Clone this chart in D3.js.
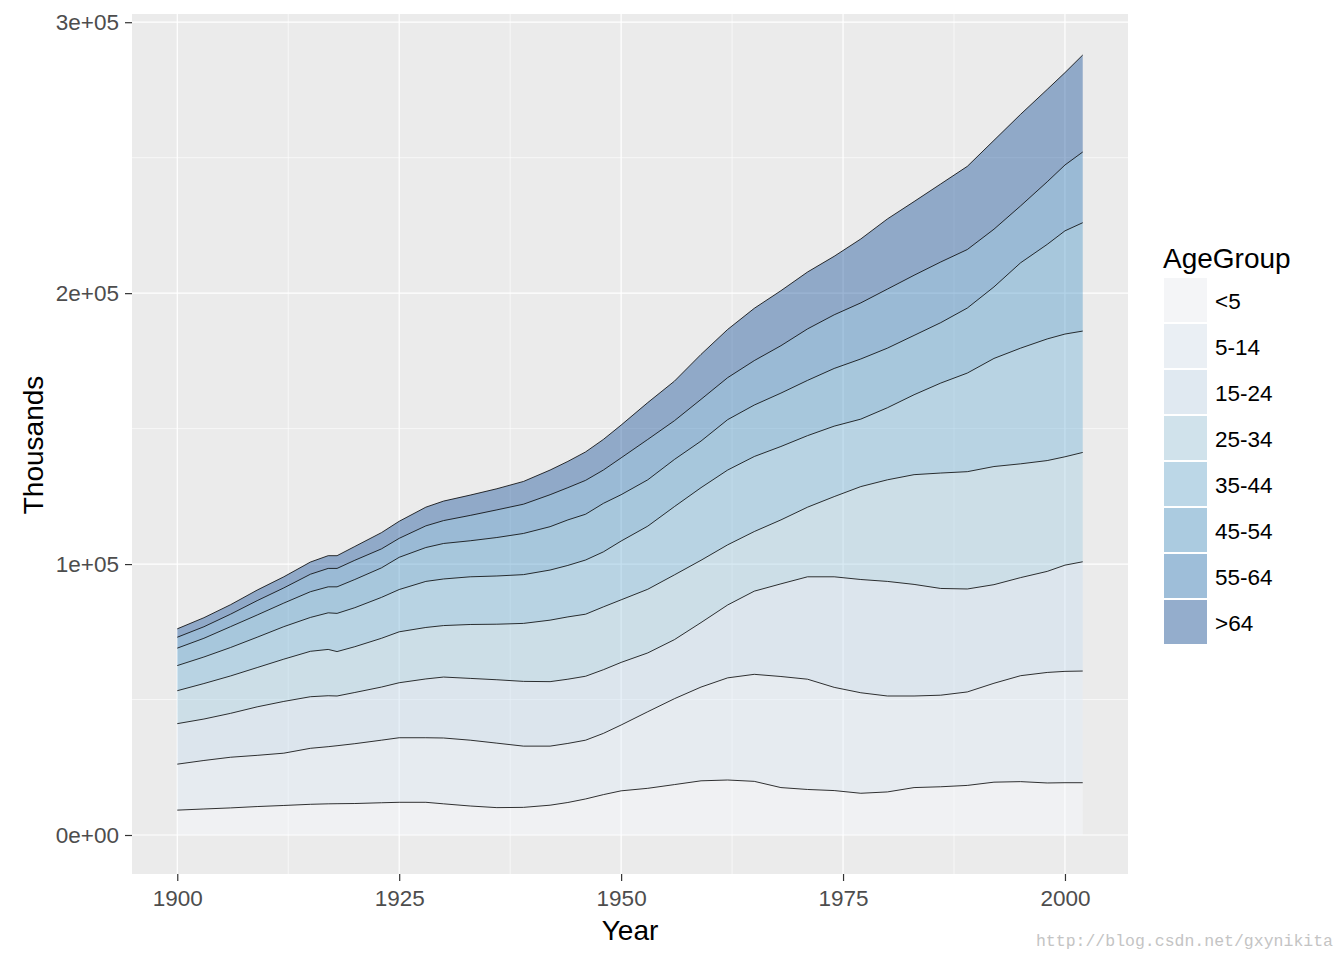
<!DOCTYPE html>
<html>
<head>
<meta charset="utf-8">
<script src="https://cdn.jsdelivr.net/npm/d3@7"></script>
<style>
  body { margin: 0; background: #ffffff; }
  text { font-family: "Liberation Sans", Arial, sans-serif; }
</style>
</head>
<body>
<div id="wrapper"></div>
<script>
// values (thousands)
const years = [1900, 1903, 1906, 1909, 1912, 1915, 1917, 1918, 1920, 1923, 1925, 1928, 1930,
  1933, 1936, 1939, 1942, 1944, 1946, 1948, 1950, 1953, 1956, 1959, 1962, 1965, 1968,
  1971, 1974, 1977, 1980, 1983, 1986, 1989, 1992, 1995, 1998, 2000, 2002];

const ageGroups = ["<5", "5-14", "15-24", "25-34", "35-44", "45-54", "55-64", ">64"];

const under5 = [9181, 9600, 10000, 10500, 10900, 11330, 11500, 11550, 11620, 11900, 12070, 12070, 11500,
  10700, 10100, 10200, 11000, 12000, 13300, 14900, 16300, 17230, 18600, 20000, 20300, 19800, 17500,
  16800, 16400, 15400, 15900, 17500, 17800, 18300, 19500, 19700, 19200, 19300, 19300];
const age5to14 = [16966, 17900, 18700, 18900, 19300, 20670, 21100, 21400, 22080, 23100, 23830, 23830, 24300,
  24300, 23800, 22600, 21800, 21800, 21700, 22600, 24300, 28270, 31700, 34600, 37700, 39500, 41000,
  40700, 38100, 37100, 35400, 33800, 33800, 34500, 36500, 39100, 40800, 41100, 41220];
const age15to24 = [14951, 15300, 16200, 17900, 19100, 19040, 18800, 18350, 18900, 19600, 20300, 21700, 22500,
  22800, 23400, 23900, 23800, 23700, 23600, 23500, 23100, 21700, 21800, 23800, 26900, 30700, 34200,
  37800, 40800, 41800, 42300, 41200, 39400, 38000, 36400, 36200, 37300, 39200, 40330];
const age25to34 = [12161, 13100, 13800, 14500, 15600, 16760, 17100, 16400, 16900, 18000, 18800, 19000, 19000,
  19900, 20500, 21400, 22700, 23000, 22900, 23200, 23100, 23500, 23900, 23000, 22200, 22000, 23600,
  25700, 29600, 34300, 37500, 40500, 42600, 43300, 43600, 42000, 40900, 40000, 40350];
const age35to44 = [9273, 9800, 10500, 11200, 12000, 12500, 13500, 14100, 14400, 15100, 15600, 17000, 17200,
  17600, 17800, 18000, 18500, 19000, 20000, 20300, 21700, 23300, 25200, 26800, 27600, 27700, 27100,
  26400, 26000, 24900, 26600, 29500, 33200, 36400, 39900, 42700, 44900, 45300, 44800];
const age45to54 = [6437, 6900, 7700, 8200, 8700, 9500, 9600, 9800, 10400, 10900, 11900, 12500, 13100,
  13300, 14200, 15200, 16000, 16800, 16900, 17900, 17100, 17100, 17400, 17200, 18600, 19000, 19700,
  20400, 21300, 22200, 22000, 21900, 22300, 24000, 26400, 31500, 34900, 38100, 40000];
const age55to64 = [4026, 4260, 4600, 5300, 5600, 6450, 6800, 6800, 7100, 7000, 7000, 8000, 8450,
  9360, 10200, 10800, 11800, 11900, 12500, 12300, 13600, 14900, 14300, 15400, 15500, 16400, 17500,
  19000, 19800, 20700, 21800, 22200, 22400, 21600, 21300, 21000, 23100, 24300, 26100];
const over64 = [3099, 3340, 3500, 3900, 4100, 4500, 4700, 4700, 5100, 6000, 6300, 6900, 7200,
  7500, 7800, 8400, 9100, 9700, 10500, 11300, 12100, 13600, 14600, 16600, 17800, 19300, 20300,
  21000, 21600, 23600, 25900, 27200, 28800, 30700, 32800, 33800, 34100, 34100, 35800];

const xTicks = [1900, 1925, 1950, 1975, 2000];
const xMinorTicks = [1912.5, 1937.5, 1962.5, 1987.5];
const yTicks = [0, 100000, 200000, 300000];
const yTickLabels = ["0e+00", "1e+05", "2e+05", "3e+05"];
const yMinorTicks = [50000, 150000, 250000];

const blues = ["#F7FBFF", "#DEEBF7", "#C6DBEF", "#9ECAE1", "#6BAED6", "#4292C6", "#2171B5", "#084594"];

function drawChart() {
  // 1. Build data
  const groupValues = [under5, age5to14, age15to24, age25to34, age35to44, age45to54, age55to64, over64];
  const dataset = years.map((year, i) => {
    const row = { Year: year };
    ageGroups.forEach((g, j) => (row[g] = groupValues[j][i]));
    return row;
  });
  const series = d3.stack().keys(ageGroups)(dataset);

  const xAccessor = (d) => d.data.Year;

  // 2. Dimensions
  let dimensions = {
    width: 1344,
    height: 960,
    margin: { top: 16, right: 216, bottom: 86, left: 132 },
  };
  dimensions.boundedWidth = dimensions.width - dimensions.margin.left - dimensions.margin.right;
  dimensions.boundedHeight = dimensions.height - dimensions.margin.top - dimensions.margin.bottom;

  // 3. Canvas
  const wrapper = d3
    .select("#wrapper")
    .append("svg")
    .attr("width", dimensions.width)
    .attr("height", dimensions.height);

  const bounds = wrapper
    .append("g")
    .attr("transform", `translate(${dimensions.margin.left},${dimensions.margin.top})`);

  bounds
    .append("rect")
    .attr("y", -2)
    .attr("width", dimensions.boundedWidth)
    .attr("height", dimensions.boundedHeight + 2)
    .attr("fill", "#EBEBEB");

  // 4. Scales (ggplot style 5% expansion)
  const xExt = d3.extent(years);
  const xPad = (xExt[1] - xExt[0]) * 0.05;
  const xScale = d3
    .scaleLinear()
    .domain([xExt[0] - xPad, xExt[1] + xPad])
    .range([0, dimensions.boundedWidth]);

  const yMax = d3.max(series[series.length - 1], (d) => d[1]);
  const yScale = d3
    .scaleLinear()
    .domain([-yMax * 0.05, yMax * 1.05])
    .range([dimensions.boundedHeight, 0]);

  // grid
  const grid = bounds.append("g");
  grid.selectAll(".xminor").data(xMinorTicks).join("line")
    .attr("x1", (d) => xScale(d)).attr("x2", (d) => xScale(d))
    .attr("y1", -2).attr("y2", dimensions.boundedHeight)
    .attr("stroke", "#ffffff").attr("stroke-width", 0.6);
  grid.selectAll(".yminor").data(yMinorTicks).join("line")
    .attr("y1", (d) => yScale(d)).attr("y2", (d) => yScale(d))
    .attr("x1", 0).attr("x2", dimensions.boundedWidth)
    .attr("stroke", "#ffffff").attr("stroke-width", 0.6);
  grid.selectAll(".xmajor").data(xTicks).join("line")
    .attr("x1", (d) => xScale(d)).attr("x2", (d) => xScale(d))
    .attr("y1", -2).attr("y2", dimensions.boundedHeight)
    .attr("stroke", "#ffffff").attr("stroke-width", 1.2);
  grid.selectAll(".ymajor").data(yTicks).join("line")
    .attr("y1", (d) => yScale(d)).attr("y2", (d) => yScale(d))
    .attr("x1", 0).attr("x2", dimensions.boundedWidth)
    .attr("stroke", "#ffffff").attr("stroke-width", 1.2);

  // 5. Areas
  const areaGenerator = d3
    .area()
    .x((d) => xScale(xAccessor(d)))
    .y0((d) => yScale(d[0]))
    .y1((d) => yScale(d[1]));

  bounds
    .selectAll(".area")
    .data(series)
    .join("path")
    .attr("class", "area")
    .attr("d", areaGenerator)
    .attr("fill", (d, i) => blues[i])
    .attr("fill-opacity", 0.4);

  const lineGenerator = d3
    .line()
    .x((d) => xScale(xAccessor(d)))
    .y((d) => yScale(d[1]));

  bounds
    .selectAll(".upper")
    .data(series)
    .join("path")
    .attr("class", "upper")
    .attr("d", lineGenerator)
    .attr("fill", "none")
    .attr("stroke", "#000000")
    .attr("stroke-width", 0.8);

  // 6. Axes
  const xAxisGenerator = d3
    .axisBottom(xScale)
    .tickValues(xTicks)
    .tickFormat(d3.format("d"))
    .tickSize(7)
    .tickSizeOuter(0)
    .tickPadding(9);

  const xAxis = bounds
    .append("g")
    .attr("transform", `translate(0,${dimensions.boundedHeight})`)
    .call(xAxisGenerator);
  xAxis.select(".domain").remove();
  xAxis.selectAll(".tick line").attr("stroke", "#333333").attr("stroke-width", 1.2);
  xAxis.selectAll(".tick text")
    .attr("fill", "#4D4D4D")
    .style("font-size", "22.5px")
    .style("font-family", '"Liberation Sans", Arial, sans-serif');

  const yAxisGenerator = d3
    .axisLeft(yScale)
    .tickValues(yTicks)
    .tickFormat((d, i) => yTickLabels[i])
    .tickSize(7)
    .tickSizeOuter(0)
    .tickPadding(6);

  const yAxis = bounds.append("g").call(yAxisGenerator);
  yAxis.select(".domain").remove();
  yAxis.selectAll(".tick line").attr("stroke", "#333333").attr("stroke-width", 1.2);
  yAxis.selectAll(".tick text")
    .attr("fill", "#4D4D4D")
    .style("font-size", "22.5px")
    .style("font-family", '"Liberation Sans", Arial, sans-serif');

  wrapper
    .append("text")
    .attr("x", dimensions.margin.left + dimensions.boundedWidth / 2)
    .attr("y", 940)
    .attr("text-anchor", "middle")
    .style("font-size", "28px")
    .attr("fill", "#000000")
    .text("Year");

  wrapper
    .append("text")
    .attr("transform", `translate(43,${dimensions.margin.top + dimensions.boundedHeight / 2}) rotate(-90)`)
    .attr("text-anchor", "middle")
    .style("font-size", "28px")
    .attr("fill", "#000000")
    .text("Thousands");

  // 7. Legend
  const legend = wrapper.append("g").attr("transform", "translate(1164,278)");
  legend
    .append("text")
    .attr("x", -1)
    .attr("y", -10)
    .style("font-size", "28px")
    .attr("fill", "#000000")
    .text("AgeGroup");

  const keys = legend
    .selectAll(".key")
    .data(ageGroups)
    .join("g")
    .attr("class", "key")
    .attr("transform", (d, i) => `translate(0,${i * 46})`);

  keys.append("rect").attr("width", 43).attr("height", 44).attr("fill", "#F2F2F2");
  keys
    .append("rect")
    .attr("width", 43)
    .attr("height", 44)
    .attr("fill", (d, i) => blues[i])
    .attr("fill-opacity", 0.4);
  keys
    .append("text")
    .attr("x", 51)
    .attr("y", 31)
    .style("font-size", "22.5px")
    .attr("fill", "#000000")
    .text((d) => d);

  // watermark
  wrapper
    .append("text")
    .attr("x", 1333)
    .attr("y", 946)
    .attr("text-anchor", "end")
    .style("font-family", '"Liberation Mono", "DejaVu Sans Mono", monospace')
    .style("font-size", "16.5px")
    .attr("fill", "#C4C4C4")
    .text("http://blog.csdn.net/gxynikita");
}

drawChart();
</script>
</body>
</html>
